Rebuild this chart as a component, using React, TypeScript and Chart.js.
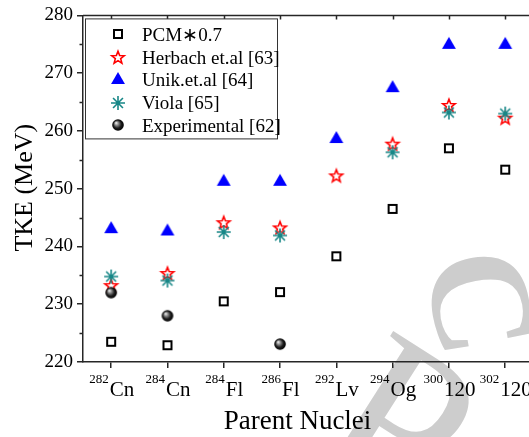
import { useEffect, useRef } from 'react';
import { Chart, registerables } from 'chart.js';

Chart.register(...registerables);

// Parent nuclei: mass number (superscript) and element symbol
const massNumbers = ['282', '284', '284', '286', '292', '294', '300', '302'];
const elementSymbols = ['Cn', 'Cn', 'Fl', 'Fl', 'Lv', 'Og', '120', '120'];

// Total kinetic energy (MeV) for each parent nucleus
const pcmScaled = [223.5, 222.9, 230.5, 232.1, 238.3, 246.5, 257.0, 253.3];
const herbach = [233.3, 235.4, 244.2, 243.3, 252.3, 257.8, 264.5, 262.3];
const unik = [243.0, 242.6, 251.2, 251.2, 258.6, 267.4, 274.9, 274.9];
const viola = [234.8, 234.1, 242.5, 241.9, null, 256.3, 263.2, 263.0];
const experimental = [232.0, 228.0, null, 223.1, null, null, null, null];

const seriesNames = ['PCM\u22170.7', 'Herbach et.al [63]', 'Unik.et.al [64]', 'Viola [65]', 'Experimental [62]'];
const yTickValues = [220, 230, 240, 250, 260, 270, 280];
const yMinorValues = [225, 235, 245, 255, 265, 275];
const xTitleText = 'Parent Nuclei';
const yTitleText = 'TKE (MeV)';
const watermarkText = 'PRC';

const SERIF = '"Liberation Serif", "Times New Roman", serif';
const AXIS = '#262626';

function markerCanvas(size: number, paint: (ctx: CanvasRenderingContext2D, c: number) => void) {
  const cv = document.createElement('canvas');
  cv.width = size;
  cv.height = size;
  const ctx = cv.getContext('2d') as CanvasRenderingContext2D;
  paint(ctx, size / 2);
  return cv;
}

function buildMarkers() {
  const square = markerCanvas(14, (ctx, c) => {
    ctx.strokeStyle = '#000';
    ctx.lineWidth = 2;
    ctx.strokeRect(c - 4, c - 4, 8, 8);
  });
  const star = markerCanvas(18, (ctx, c) => {
    ctx.beginPath();
    for (let i = 0; i < 10; i++) {
      const a = -Math.PI / 2 + (i * Math.PI) / 5;
      const r = i % 2 === 0 ? 6.6 : 2.8;
      const px = c + r * Math.cos(a);
      const py = c + 0.8 + r * Math.sin(a);
      if (i === 0) ctx.moveTo(px, py);
      else ctx.lineTo(px, py);
    }
    ctx.closePath();
    ctx.fillStyle = '#fff';
    ctx.fill();
    ctx.strokeStyle = '#ff0000';
    ctx.lineWidth = 1.6;
    ctx.stroke();
  });
  const triangle = markerCanvas(18, (ctx, c) => {
    const r = 8;
    ctx.beginPath();
    ctx.moveTo(c, c - r);
    ctx.lineTo(c + r * Math.cos(Math.PI / 6), c + r / 2);
    ctx.lineTo(c - r * Math.cos(Math.PI / 6), c + r / 2);
    ctx.closePath();
    ctx.fillStyle = '#0000ff';
    ctx.fill();
  });
  const asterisk = markerCanvas(18, (ctx, c) => {
    ctx.strokeStyle = '#178787';
    ctx.lineWidth = 1.6;
    ctx.beginPath();
    for (let k = 0; k < 4; k++) {
      const a = (k * Math.PI) / 4;
      const dx = 7 * Math.cos(a);
      const dy = 7 * Math.sin(a);
      ctx.moveTo(c - dx, c - dy);
      ctx.lineTo(c + dx, c + dy);
    }
    ctx.stroke();
  });
  const ball = markerCanvas(14, (ctx, c) => {
    const g = ctx.createRadialGradient(c - 2, c - 2.2, 0.2, c, c, 6);
    g.addColorStop(0, '#f4f4f4');
    g.addColorStop(0.3, '#8a8a8a');
    g.addColorStop(0.65, '#1c1c1c');
    g.addColorStop(1, '#000');
    ctx.fillStyle = g;
    ctx.beginPath();
    ctx.arc(c, c, 5.8, 0, Math.PI * 2);
    ctx.fill();
  });
  return [square, star, triangle, asterisk, ball];
}

const decorPlugin = {
  id: 'decor',
  beforeDraw(chart: any) {
    const ctx = chart.ctx as CanvasRenderingContext2D;
    // faint background watermark letters
    ctx.save();
    ctx.fillStyle = '#cdcdcd';
    ctx.textAlign = 'center';
    ctx.textBaseline = 'alphabetic';
    // letter P, placed by its baseline centre
    ctx.save();
    ctx.font = `220px ${SERIF}`;
    ctx.translate(362, 482);
    ctx.rotate((32.5 * Math.PI) / 180);
    ctx.fillText(watermarkText[0], 0, 0);
    ctx.restore();
    // letter C, placed by its glyph centre
    ctx.save();
    ctx.font = `bold 145px ${SERIF}`;
    ctx.translate(482, 302);
    ctx.rotate((80 * Math.PI) / 180);
    ctx.fillText(watermarkText[2], 0, 0.34 * 145);
    ctx.restore();
    ctx.restore();
  },
  afterDraw(chart: any) {
    const ctx = chart.ctx as CanvasRenderingContext2D;
    const area = chart.chartArea;
    const xs = chart.scales.x;
    const ys = chart.scales.y;
    ctx.save();
    ctx.strokeStyle = AXIS;
    ctx.lineWidth = 1.5;

    // top frame line with inward ticks
    ctx.beginPath();
    ctx.moveTo(area.left, area.top);
    ctx.lineTo(area.right, area.top);
    massNumbers.forEach((_, i) => {
      const x = Math.round(xs.getPixelForValue(i)) + 0.5;
      ctx.moveTo(x, area.top);
      ctx.lineTo(x, area.top + 4);
    });
    // minor ticks on the left axis
    yMinorValues.forEach((v) => {
      const y = Math.round(ys.getPixelForValue(v)) + 0.5;
      ctx.moveTo(area.left - 3.5, y);
      ctx.lineTo(area.left, y);
    });
    ctx.stroke();

    // category labels with superscript mass numbers
    ctx.fillStyle = '#000';
    ctx.textAlign = 'left';
    ctx.textBaseline = 'alphabetic';
    const supFont = `13px ${SERIF}`;
    const mainFont = `21px ${SERIF}`;
    massNumbers.forEach((m, i) => {
      const x = xs.getPixelForValue(i);
      ctx.font = supFont;
      const w1 = ctx.measureText(m).width;
      ctx.font = mainFont;
      const w2 = ctx.measureText(elementSymbols[i]).width;
      const start = x - (w1 + w2) / 2;
      ctx.font = supFont;
      ctx.fillText(m, start, 383);
      ctx.font = mainFont;
      ctx.fillText(elementSymbols[i], start + w1 + 1, 396);
    });

    // axis titles
    ctx.font = `27px ${SERIF}`;
    ctx.textAlign = 'center';
    ctx.fillText(xTitleText, 297.5, 429);
    ctx.save();
    ctx.translate(32, (area.top + area.bottom) / 2 - 1);
    ctx.rotate(-Math.PI / 2);
    ctx.font = `26px ${SERIF}`;
    ctx.fillText(yTitleText, 0, 0);
    ctx.restore();

    // legend box
    const lx = area.left + 2.5;
    const ly = area.top + 3.5;
    const lw = 192;
    const lh = 120;
    ctx.fillStyle = '#fff';
    ctx.fillRect(lx, ly, lw, lh);
    ctx.strokeStyle = '#333';
    ctx.lineWidth = 1;
    ctx.strokeRect(lx, ly, lw, lh);
    ctx.font = `19px ${SERIF}`;
    ctx.textAlign = 'left';
    ctx.fillStyle = '#000';
    chart.data.datasets.forEach((ds: any, k: number) => {
      const cy = area.top + 19 + k * 22.75;
      const img = ds.pointStyle as HTMLCanvasElement;
      ctx.drawImage(img, Math.round(area.left + 35 - img.width / 2), Math.round(cy - img.height / 2));
      ctx.fillText(ds.label, area.left + 59, cy + 6.5);
    });
    ctx.restore();
  },
};

export default function App() {
  const canvasRef = useRef<HTMLCanvasElement | null>(null);

  useEffect(() => {
    const canvas = canvasRef.current;
    if (!canvas) return;
    const markers = buildMarkers();
    const series = [pcmScaled, herbach, unik, viola, experimental];
    const datasets = series.map((vals, k) => ({
      label: seriesNames[k],
      data: vals
        .map((v, i) => (v == null ? null : { x: i, y: v }))
        .filter((p) => p !== null),
      pointStyle: markers[k],
      pointRadius: 8,
      showLine: false,
      order: series.length - 1 - k,
    }));

    const chart = new Chart(canvas, {
      type: 'scatter',
      data: { datasets } as any,
      plugins: [decorPlugin],
      options: {
        animation: false,
        responsive: false,
        devicePixelRatio: 1,
        events: [],
        layout: { autoPadding: false, padding: { top: 14, left: 0, right: 0, bottom: 0 } },
        plugins: { legend: { display: false }, tooltip: { enabled: false } },
        scales: {
          x: {
            type: 'linear',
            min: -0.5,
            max: 7.423,
            afterBuildTicks: (s: any) => {
              s.ticks = massNumbers.map((_, i) => ({ value: i }));
            },
            afterFit: (s: any) => {
              s.height = 75;
            },
            ticks: { display: false },
            grid: { drawOnChartArea: false, tickLength: 6, color: AXIS, lineWidth: 1.5 },
            border: { color: AXIS, width: 1.5 },
          },
          y: {
            min: 220,
            max: 280,
            afterBuildTicks: (s: any) => {
              s.ticks = yTickValues.map((v) => ({ value: v }));
            },
            afterFit: (s: any) => {
              s.width = 83;
            },
            ticks: { font: { family: SERIF, size: 19 }, color: '#000', padding: 4 },
            grid: { drawOnChartArea: false, tickLength: 6, color: AXIS, lineWidth: 1.5 },
            border: { color: AXIS, width: 1.5 },
          },
        },
      } as any,
    });
    return () => chart.destroy();
  }, []);

  return (
    <div style={{ position: 'fixed', left: 0, top: 0, width: 529, height: 437, background: '#fff' }}>
      <canvas ref={canvasRef} width={529} height={437} style={{ display: 'block' }} />
    </div>
  );
}
